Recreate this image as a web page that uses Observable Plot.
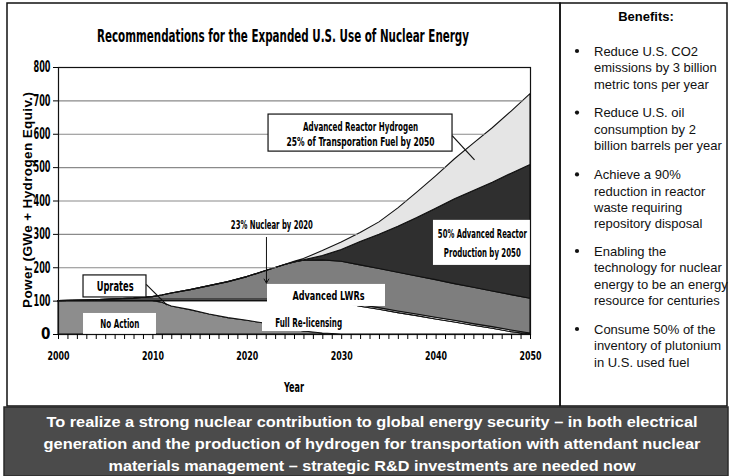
<!DOCTYPE html>
<html><head><meta charset="utf-8">
<script src="https://cdn.jsdelivr.net/npm/d3@7"></script>
<script src="https://cdn.jsdelivr.net/npm/@observablehq/plot@0.6"></script>
<style>
html,body{margin:0;padding:0;background:#fff;}
#wrap{position:relative;width:730px;height:476px;overflow:hidden;background:#fff;}
#wrap svg{position:absolute;left:0;top:0;}
</style></head><body><div id="wrap"></div>
<script>
// ---------- data ----------
const years = [2000,2003,2005,2008,2010,2011,2012,2014,2016,2018,2020,2022,2024,2025,2026,2028,2030,2032,2034,2036,2038,2040,2042,2044,2046,2048,2050];
const noAction = [100,100,100,100,100,95,84,73,60,49,41,32,20,14,9,3,0,0,0,0,0,0,0,0,0,0,0];
const fullRelicensing = [0,0,0,0,0,5,16,27,40,51,59,68,80,86,91,97,95,83,74,64,55,45,36,26,17,7,0];
const uprates = [0,2,4,5,5,5,5,5,5,5,5,5,5,5,5,5,5,5,5,5,5,5,5,5,5,5,3];
const advancedLWRs = [0,0,0,3,7,12,18,28,40,52,67,85,103,111,116,117,118,119,117,116,114,113,110,109,107,106,104];
const advReactorProduction = [0,0,0,0,0,0,0,0,0,0,0,0,0,0,1,13,35,70,103,138,175,214,254,290,326,364,401];
const advReactorHydrogen = [0,0,0,0,0,0,0,0,0,0,0,0,0,2,4,15,23,27,37,55,76,97,120,142,163,186,212];
const seriesNames = ["No Action","Full Re-licensing","Uprates","Advanced LWRs","Advanced Reactor Production","Advanced Reactor Hydrogen"];
const yTicks = [0,100,200,300,400,500,600,700,800];
const xTickLabels = [2000,2010,2020,2030,2040,2050];
const chartTitle = "Recommendations for the Expanded U.S. Use of Nuclear Energy";
const yAxisLabel = "Power (GWe + Hydrogen Equiv.)";
const xAxisLabel = "Year";
const benefitsTitle = "Benefits:";
const benefits = [
  ["Reduce U.S. CO2","emissions by 3 billion","metric tons per year"],
  ["Reduce U.S. oil","consumption by 2","billion barrels per year"],
  ["Achieve a 90%","reduction in reactor","waste requiring","repository disposal"],
  ["Enabling the","technology for nuclear","energy to be an energy","resource for centuries"],
  ["Consume 50% of the","inventory of plutonium","in U.S. used fuel"]
];
const bannerLines = [
  "To realize a strong nuclear contribution to global energy security \u2013 in both electrical",
  "generation and the production of hydrogen for transportation with attendant nuclear",
  "materials management \u2013 strategic R&D investments are needed now"
];
const annotationTexts = ["Uprates","No Action","23% Nuclear by 2020","Advanced LWRs","Full Re-licensing",
  "Advanced Reactor Hydrogen","25% of Transporation Fuel by 2050","50% Advanced Reactor","Production by 2050"];

// ---------- layout / style (not data) ----------
const NARROW = '"Liberation Sans Narrow","Arial Narrow","DejaVu Sans Condensed",sans-serif';
const SANS = '"Liberation Sans",Arial,Helvetica,sans-serif';
const fillColors = ["#8d8d8d","#ffffff","#ffffff","#7e7e7e","#2f2f2f","#e5e5e5"];

const seriesValues = [noAction, fullRelicensing, uprates, advancedLWRs, advReactorProduction, advReactorHydrogen];
const rows = [];
seriesNames.forEach((s,k) => years.forEach((yr,i) => rows.push({year: yr, value: seriesValues[k][i], series: s})));

// gridlines: only the part lying above the stacked total (derived from the data)
const totals = years.map((_, i) => seriesValues.reduce((s, arr) => s + arr[i], 0));
const gridSegs = yTicks.filter(d => d > 0 && d < 800).map(v => {
  let xEnd = years[years.length - 1];
  for (let i = 0; i < years.length - 1; i++) {
    if (totals[i] <= v && totals[i + 1] > v) {
      xEnd = years[i] + (v - totals[i]) / (totals[i + 1] - totals[i]) * (years[i + 1] - years[i]);
      break;
    }
  }
  return {x1: years[0], x2: xEnd, v};
}).filter(d => d.x2 > d.x1);

// annotation placement (data coordinates)
const boxesBordered = [
  {x1:2002.65,x2:2009.32,y1:111,y2:177},
  {x1:2022.25,x2:2041.74,y1:548,y2:659}
];
const boxesPlain = [
  {x1:2002.65,x2:2010.38,y1:0,y2:63},
  {x1:2022.14,x2:2034.64,y1:84,y2:150},
  {x1:2021.61,x2:2031.36,y1:9,y2:66},
  {x1:2039.72,x2:2050,y1:207,y2:342}
];
const labelPos = [
  {x:2006.0,y:144,size:14,w:37},
  {x:2006.5,y:31,size:13,w:39},
  {x:2022.6,y:327,size:12,w:82},
  {x:2028.6,y:117,size:13,w:72},
  {x:2026.5,y:36,size:13,w:67},
  {x:2032.0,y:623,size:13,w:115},
  {x:2032.0,y:578,size:13,w:148},
  {x:2044.9,y:303,size:13,w:89},
  {x:2044.9,y:246,size:13,w:77}
];
const labels = annotationTexts.map((t,i) => ({...labelPos[i], text: t}));
const leaders = [
  {x1:2009.29,y1:150,x2:2011.5,y2:88},
  {x1:2041.7,y1:596,x2:2044.07,y2:523}
];
const arrows = [{x1:2022.03,y1:291,x2:2022.03,y2:154}];

const chart = Plot.plot({
  width: 560, height: 405,
  marginLeft: 58, marginRight: 30, marginTop: 67, marginBottom: 71,
  x: {domain: [2000, 2050]},
  y: {domain: [0, 800]},
  color: {type: "ordinal", domain: seriesNames, range: fillColors},
  style: {fontFamily: NARROW, fontWeight: "bold", color: "#000", background: "transparent", overflow: "visible"},
  marks: [
    Plot.areaY(rows, {x: "year", y: "value", z: "series", fill: "series", stroke: "#111", strokeWidth: 1.1, strokeLinejoin: "round"}),
    Plot.ruleY(gridSegs, {y: "v", x1: "x1", x2: "x2", stroke: "#8a8a8a", strokeWidth: 1.2}),
    Plot.rect(boxesPlain, {x1: "x1", x2: "x2", y1: "y1", y2: "y2", fill: "white"}),
    Plot.rect(boxesBordered, {x1: "x1", x2: "x2", y1: "y1", y2: "y2", fill: "white", stroke: "#111", strokeWidth: 1.2}),
    Plot.link(leaders, {x1: "x1", y1: "y1", x2: "x2", y2: "y2", stroke: "#111", strokeWidth: 1.2}),
    Plot.arrow(arrows, {x1: "x1", y1: "y1", x2: "x2", y2: "y2", stroke: "#111", strokeWidth: 1, headLength: 7, bend: 0}),
    Plot.frame({stroke: "#111", strokeWidth: 1.2}),
    Plot.axisY({ticks: yTicks, tickSize: 5, tickPadding: 3, fontSize: 15, label: null, tickFormat: d => String(d)}),
    Plot.axisX({ticks: d3.range(2000, 2051), tickSize: 5, tickPadding: 11, fontSize: 13, label: null,
      tickFormat: d => xTickLabels.includes(d) ? String(d) : ""}),
    Plot.text(labels, {x: "x", y: "y", text: "text", fontSize: "size", fontWeight: "bold", fontFamily: NARROW, fill: "#000"})
  ]
});

const fitW = new Map(labels.map(d => [d.text, d.w]));
xTickLabels.forEach(d => fitW.set(String(d), 22));
yTicks.forEach(d => { if (d >= 100) fitW.set(String(d), 17); });
d3.select(chart).selectAll("text").each(function() {
  const t = this.textContent; const w = fitW.get(t);
  if (w) { this.setAttribute("textLength", w); this.setAttribute("lengthAdjust", "spacingAndGlyphs"); }
});

const wrap = document.getElementById("wrap");
wrap.appendChild(chart);

// ---------- overlay: frame, titles, benefits, banner ----------
const over = d3.create("svg").attr("width", 730).attr("height", 476);
over.append("rect").attr("x", 7).attr("y", 3).attr("width", 553).attr("height", 403)
  .attr("fill", "none").attr("stroke", "#111").attr("stroke-width", 1.5);
over.append("rect").attr("x", 560).attr("y", 3).attr("width", 167).attr("height", 403)
  .attr("fill", "none").attr("stroke", "#111").attr("stroke-width", 1.5);
over.append("text").attr("x", 283).attr("y", 42).attr("text-anchor", "middle")
  .attr("font-family", NARROW).attr("font-weight", "bold").attr("font-size", 18.5)
  .attr("textLength", 372).attr("lengthAdjust", "spacingAndGlyphs").text(chartTitle);
over.append("text").attr("transform", "translate(27,200) rotate(-90)").attr("y", 5)
  .attr("text-anchor", "middle").attr("font-family", SANS).attr("font-weight", "bold").attr("font-size", 13.5)
  .attr("textLength", 216).attr("lengthAdjust", "spacing").text(yAxisLabel);
over.append("text").attr("x", 294).attr("y", 392).attr("text-anchor", "middle")
  .attr("font-family", NARROW).attr("font-weight", "bold").attr("font-size", 14)
  .attr("textLength", 20).attr("lengthAdjust", "spacingAndGlyphs").text(xAxisLabel);
over.append("text").attr("x", 646).attr("y", 21).attr("text-anchor", "middle")
  .attr("font-family", SANS).attr("font-weight", "bold").attr("font-size", 13).text(benefitsTitle);
const groupStart = [51, 112.6, 174.4, 251, 329];
benefits.forEach((lines, g) => {
  const y0 = groupStart[g];
  over.append("circle").attr("cx", 577).attr("cy", y0).attr("r", 2.1).attr("fill", "#111");
  lines.forEach((ln, i) => {
    over.append("text").attr("x", 594).attr("y", y0 + 4.7 + i * 16.4)
      .attr("font-family", SANS).attr("font-size", 13).attr("fill", "#111").text(ln);
  });
});
over.append("rect").attr("x", 4).attr("y", 407).attr("width", 724).attr("height", 69)
  .attr("fill", "#4b4b4b").attr("stroke", "#2a2a2a").attr("stroke-width", 1.5);
const bannerW = [651, 657, 527];
bannerLines.forEach((ln, i) => {
  over.append("text").attr("x", 372).attr("y", 427 + i * 22).attr("text-anchor", "middle")
    .attr("font-family", SANS).attr("font-weight", "bold").attr("font-size", 15.5).attr("fill", "#fff")
    .attr("textLength", bannerW[i]).attr("lengthAdjust", "spacingAndGlyphs").text(ln);
});
wrap.appendChild(over.node());
</script>
</body></html>
